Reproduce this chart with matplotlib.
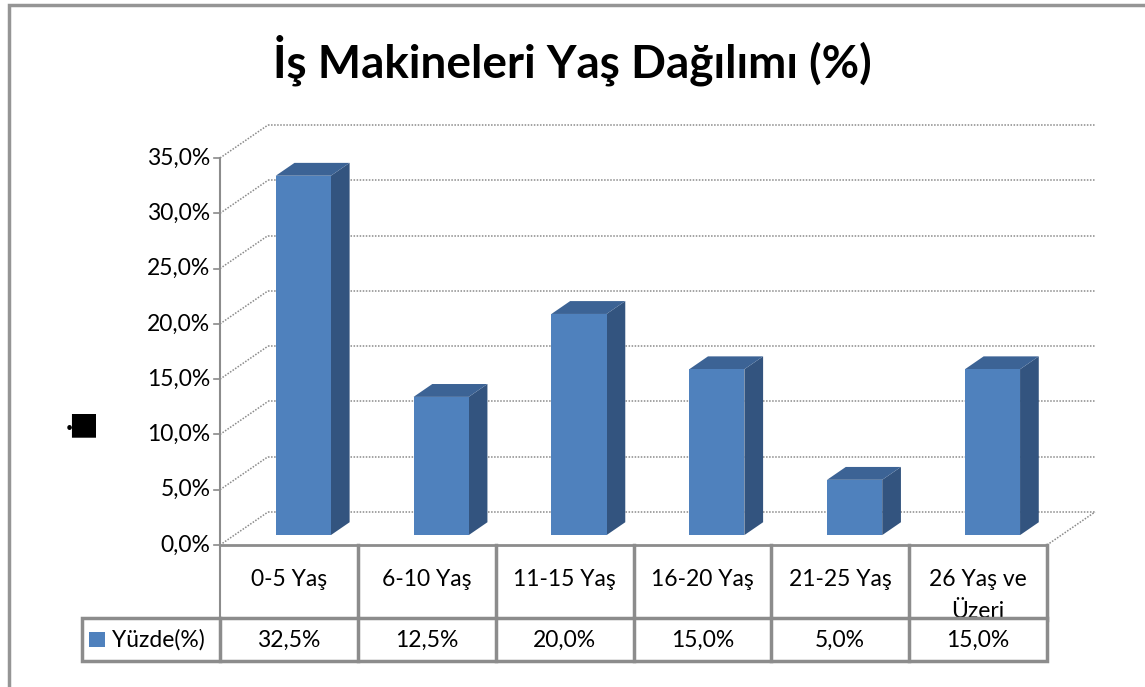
import matplotlib
matplotlib.use("Agg")
import matplotlib.pyplot as plt
from matplotlib.patches import Polygon, Rectangle

plt.rcParams['font.family'] = ['Lato', 'DejaVu Sans']

# data
categories = ["0-5 Yaş", "6-10 Yaş", "11-15 Yaş", "16-20 Yaş", "21-25 Yaş", "26 Yaş ve\nÜzeri"]
values = [32.5, 12.5, 20.0, 15.0, 5.0, 15.0]
value_labels = ["32,5%", "12,5%", "20,0%", "15,0%", "5,0%", "15,0%"]
yticks = [0, 5, 10, 15, 20, 25, 30, 35]
series_name = "Yüzde(%)"
title = "İş Makineleri Yaş Dağılımı (%)"

W, H = 1145, 687
# plot area (front plane) in pixels, top-origin
L, R, B, T = 220, 1047, 545, 158
DX, DY = 48, 33           # depth offset of the back wall in pixels
n = len(categories)
ymax = 35

fig = plt.figure(figsize=(W / 100, H / 100), dpi=100)
ax = fig.add_axes([L / W, 1 - B / H, (R - L) / W, (B - T) / H])
ax.set_xlim(0, n)
ax.set_ylim(0, ymax)
ax.axis('off')

px_x = (R - L) / n       # pixels per category
px_y = (B - T) / ymax    # pixels per percent
ddx = DX / px_x
ddy = DY / px_y


def proj(x, y, d):
    return (x + d * ddx, y + d * ddy)


def py(p):
    # pixel row -> data y
    return (B - p) / px_y


grid_kw = dict(color='#8a8a8a', lw=1.1, ls=(0, (1, 1)), clip_on=False, zorder=1)
for v in yticks:
    a, b = proj(0, v, 1), proj(n, v, 1)
    ax.plot([a[0], b[0]], [a[1], b[1]], **grid_kw)
    c = proj(0, v, 0)
    ax.plot([c[0], a[0]], [c[1], a[1]], **grid_kw)
    ax.plot([-0.045, 0], [v, v], color='#8a8a8a', lw=1.2, clip_on=False)
    ax.text(-0.07, v, f"{v},0%", ha='right', va='center', fontsize=16.5, clip_on=False)
# floor right edge
a, b = proj(n, 0, 0), proj(n, 0, 1)
ax.plot([a[0], b[0]], [a[1], b[1]], **grid_kw)

# bars
front_c, side_c, top_c = '#4f81bd', '#33547f', '#3c6395'
d0, d1 = 0.30, 0.69
for i, v in enumerate(values):
    x0, x1 = i + 0.3, i + 0.7
    front = [proj(x0, 0, d0), proj(x1, 0, d0), proj(x1, v, d0), proj(x0, v, d0)]
    side = [proj(x1, 0, d0), proj(x1, 0, d1), proj(x1, v, d1), proj(x1, v, d0)]
    top = [proj(x0, v, d0), proj(x1, v, d0), proj(x1, v, d1), proj(x0, v, d1)]
    for pts, col in ((side, side_c), (top, top_c), (front, front_c)):
        ax.add_patch(Polygon(pts, closed=True, facecolor=col, edgecolor='none',
                             clip_on=False, zorder=3))

# data table
line_c = '#8c8c8c'
row1_b = py(620)
row2_t, row2_b = py(618), py(661)
head_l = (82 - L) / px_x
ax.plot([0, n], [0, 0], color=line_c, lw=2, clip_on=False, zorder=4)
for k in range(n + 1):
    ax.plot([k, k], [ymax if k == 0 else 0, row1_b], color=line_c, lw=2.5 if k else 1.5,
            clip_on=False, zorder=4)
for i, lab in enumerate(categories):
    # wrapped second line runs under the value row, as in the original
    for j, part in enumerate(lab.split("\n")):
        ax.text(i + 0.5, py(579 + 33 * j), part, ha='center', va='center',
                fontsize=16.5, clip_on=False, zorder=2)
ax.add_patch(Rectangle((head_l, row2_b), n - head_l, row2_t - row2_b, facecolor='white',
                       edgecolor=line_c, lw=2.5, clip_on=False, zorder=5))
for k in range(n):
    ax.plot([k, k], [row2_t, row2_b], color=line_c, lw=2.5, clip_on=False, zorder=6)
for i, lab in enumerate(value_labels):
    ax.text(i + 0.5, py(640), lab, ha='center', va='center', fontsize=16.5,
            clip_on=False, zorder=7)
ax.add_patch(Rectangle(((89 - L) / px_x, py(647)), 16 / px_x, 15 / px_y,
                       facecolor=front_c, edgecolor='none', clip_on=False, zorder=7))
ax.text((112 - L) / px_x, py(640), series_name, ha='left', va='center', fontsize=16.5,
        clip_on=False, zorder=7)

# garbled y-axis label glyph
fig.text(66 / W, 1 - 423 / H, ".\u2586", fontsize=22, fontweight='bold', ha='left', va='center')

# outer border
fig.patches.append(Rectangle((9 / W, -0.1), 1.2, 1 - 5 / H + 0.1, transform=fig.transFigure,
                             facecolor='none', edgecolor='#959595', lw=2.5))

fig.text(572 / W, 1 - 60 / H, title, ha='center', va='center', fontsize=33, fontweight='bold')

fig.savefig("out.png", dpi=100)
